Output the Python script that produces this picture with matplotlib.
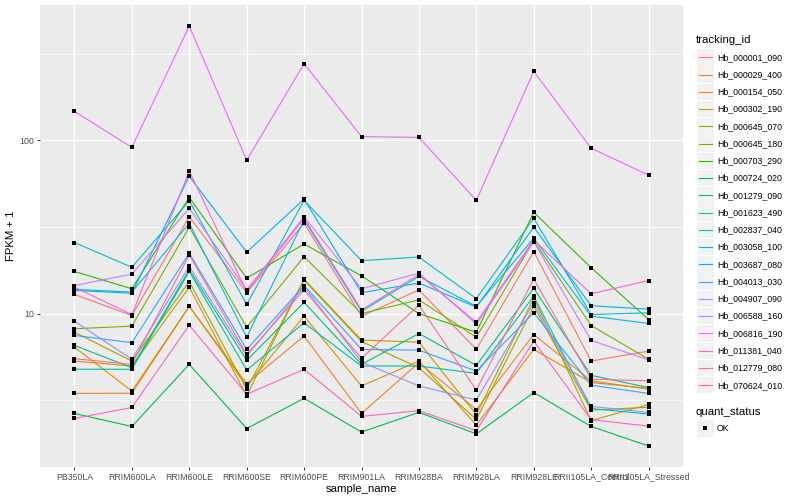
import numpy as np
import matplotlib.pyplot as plt
from matplotlib.patches import Rectangle
from matplotlib.lines import Line2D
from matplotlib.ticker import NullFormatter

plt.rcParams['font.family'] = ['Liberation Sans', 'DejaVu Sans']

samples = ['PB350LA', 'RRIM600LA', 'RRIM600LE', 'RRIM600SE', 'RRIM600PE', 'RRIM901LA',
           'RRIM928BA', 'RRIM928LA', 'RRIM928LE', 'RRII105LA_Control', 'RRII105LA_Stressed']

tracking_ids = ['Hb_000001_090', 'Hb_000029_400', 'Hb_000154_050', 'Hb_000302_190',
                'Hb_000645_070', 'Hb_000645_180', 'Hb_000703_290', 'Hb_000724_020',
                'Hb_001279_090', 'Hb_001623_490', 'Hb_002837_040', 'Hb_003058_100',
                'Hb_003687_080', 'Hb_004013_030', 'Hb_004907_090', 'Hb_006588_160',
                'Hb_006816_190', 'Hb_011381_040', 'Hb_012779_080', 'Hb_070624_010']

# FPKM + 1, one list per gene, in sample order
hb_000001_090 = [12.9, 9.74, 36.2, 13.2, 33.2, 9.65, 13.7, 6.21, 22.8, 5.32, 6.07]
hb_000029_400 = [3.46, 3.47, 11.0, 3.94, 7.42, 2.65, 5.21, 2.79, 7.57, 4.09, 3.66]
hb_000154_050 = [6.40, 3.57, 11.0, 3.82, 9.66, 3.82, 5.32, 2.27, 6.21, 4.00, 3.70]
hb_000302_190 = [5.32, 4.98, 14.2, 3.35, 15.8, 7.03, 6.84, 2.61, 12.3, 2.41, 2.99]
hb_000645_070 = [7.81, 5.32, 15.3, 3.66, 15.6, 6.90, 4.87, 2.45, 11.0, 2.77, 2.88]
hb_000645_180 = [8.17, 8.46, 31.5, 8.34, 21.3, 10.0, 12.0, 7.31, 26.3, 8.53, 5.45]
hb_000703_290 = [17.5, 13.9, 46.9, 16.0, 25.2, 16.5, 10.0, 7.81, 38.4, 18.4, 9.24]
hb_000724_020 = [2.65, 2.23, 5.09, 2.17, 3.24, 2.07, 2.69, 2.02, 3.50, 2.23, 1.72]
hb_001279_090 = [6.55, 4.87, 17.9, 5.37, 11.6, 5.09, 7.67, 5.02, 14.0, 4.40, 3.74]
hb_001623_490 = [4.77, 4.77, 17.5, 4.72, 8.84, 4.98, 4.98, 4.52, 12.6, 2.83, 2.63]
hb_002837_040 = [25.7, 18.5, 44.8, 11.3, 45.0, 20.2, 21.2, 12.2, 35.5, 9.87, 10.1]
hb_003058_100 = [13.8, 13.3, 33.2, 7.31, 34.7, 10.3, 16.4, 11.0, 27.2, 9.66, 8.77]
hb_003687_080 = [13.6, 13.1, 62.1, 22.6, 45.8, 13.2, 15.0, 10.9, 31.5, 11.1, 10.6]
hb_004013_030 = [7.48, 6.79, 22.3, 6.21, 14.5, 6.21, 6.15, 4.66, 10.1, 3.86, 3.46]
hb_004907_090 = [9.03, 5.45, 18.7, 5.69, 14.3, 5.25, 3.82, 3.17, 11.5, 2.91, 2.69]
hb_006588_160 = [14.5, 16.9, 40.5, 13.7, 36.2, 13.9, 17.1, 8.70, 26.0, 7.00, 5.40]
hb_006816_190 = [147, 91, 457, 76.7, 277, 105, 104, 45, 250, 90, 63]
hb_011381_040 = [14.2, 9.87, 66.4, 13.4, 35.5, 10.5, 16.8, 8.91, 26.6, 13.0, 15.5]
hb_012779_080 = [2.48, 2.87, 8.57, 3.42, 4.77, 2.55, 2.75, 2.11, 6.93, 2.44, 2.24]
hb_070624_010 = [5.49, 5.09, 21.8, 5.81, 13.7, 5.51, 11.2, 3.62, 15.8, 4.18, 4.09]

series = [hb_000001_090, hb_000029_400, hb_000154_050, hb_000302_190, hb_000645_070,
          hb_000645_180, hb_000703_290, hb_000724_020, hb_001279_090, hb_001623_490,
          hb_002837_040, hb_003058_100, hb_003687_080, hb_004013_030, hb_004907_090,
          hb_006588_160, hb_006816_190, hb_011381_040, hb_012779_080, hb_070624_010]


# ggplot default hue palette (hcl, l=65, c=100)
def gg_hue(n, l=65, c=100):
    xn, yn, zn = 0.95047, 1.0, 1.08883
    un = 4 * xn / (xn + 15 * yn + 3 * zn)
    vn = 9 * yn / (xn + 15 * yn + 3 * zn)
    cols = []
    for h in np.linspace(15, 375, n + 1)[:-1]:
        hr = np.deg2rad(h)
        u, v = c * np.cos(hr), c * np.sin(hr)
        Y = ((l + 16) / 116) ** 3
        up = u / (13 * l) + un
        vp = v / (13 * l) + vn
        X = 9 * Y * up / (4 * vp)
        Z = Y * (12 - 3 * up - 20 * vp) / (4 * vp)
        r = 3.2404542 * X - 1.5371385 * Y - 0.4985314 * Z
        g = -0.9692660 * X + 1.8760108 * Y + 0.0415560 * Z
        b = 0.0556434 * X - 0.2040259 * Y + 1.0572252 * Z
        rgb = []
        for ch in (r, g, b):
            ch = 12.92 * ch if ch <= 0.0031308 else 1.055 * ch ** (1 / 2.4) - 0.055
            rgb.append(min(max(ch, 0), 1))
        cols.append(tuple(rgb))
    return cols


colors = gg_hue(len(tracking_ids))
x = np.arange(len(samples))

W, H = 800, 500
fig = plt.figure(figsize=(8, 5), dpi=100)
ax = fig.add_axes([40 / W, 1 - 467 / H, (683 - 40) / W, (467 - 5) / H])
ax.set_facecolor('#EBEBEB')

for vals, col in zip(series, colors):
    ax.plot(x, vals, color=col, lw=0.8, zorder=2)
for vals in series:
    ax.plot(x, vals, ls='none', marker='s', ms=3.0, mew=0, color='black', zorder=3)

ax.set_yscale('log')
allv = np.log10(np.concatenate([np.array(s, float) for s in series]))
pad = 0.05 * (allv.max() - allv.min())
ax.set_ylim(10 ** (allv.min() - pad), 10 ** (allv.max() + pad))
ax.set_xlim(-0.6, len(samples) - 0.4)

ax.set_yticks([10, 100])
ax.set_yticklabels(['10', '100'])
ax.set_yticks([10 ** 0.5, 10 ** 1.5, 10 ** 2.5], minor=True)
ax.yaxis.set_minor_formatter(NullFormatter())
ax.set_xticks(x)
ax.set_xticklabels(samples)

ax.set_axisbelow(True)
ax.grid(which='major', color='white', lw=1.0)
ax.grid(which='minor', axis='y', color='white', lw=0.5)
for s in ax.spines.values():
    s.set_visible(False)
ax.tick_params(which='major', length=2.5, width=0.7, color='#333333',
               labelsize=6.3, labelcolor='#4D4D4D', pad=1.5)
ax.tick_params(which='minor', length=0)

ax.set_xlabel('sample_name', fontsize=8.2, labelpad=2)
ax.set_ylabel('FPKM + 1', fontsize=8.2, labelpad=3)


# legend drawn by hand, ggplot style
def fx(px):
    return px / W


def fy(py):
    return 1 - py / H


fig.text(fx(696), fy(40), 'tracking_id', fontsize=8.2, va='center', ha='left')
step = 17.26
for i, (tid, col) in enumerate(zip(tracking_ids, colors)):
    yc = 57.3 + i * step
    fig.add_artist(Rectangle((fx(697), fy(yc + 8.2)), 16.5 / W, 16.4 / H,
                             transform=fig.transFigure, facecolor='#F2F2F2', edgecolor='none'))
    fig.add_artist(Line2D([fx(698.5), fx(712)], [fy(yc), fy(yc)],
                          transform=fig.transFigure, color=col, lw=0.8))
    fig.text(fx(717), fy(yc), tid, fontsize=6.3, va='center', ha='left')

fig.text(fx(696), fy(412), 'quant_status', fontsize=8.2, va='center', ha='left')
fig.add_artist(Rectangle((fx(697), fy(428.3 + 8.2)), 16.5 / W, 16.4 / H,
                         transform=fig.transFigure, facecolor='#F2F2F2', edgecolor='none'))
fig.add_artist(Line2D([fx(705.2)], [fy(428.3)], transform=fig.transFigure,
                      ls='none', marker='s', ms=3.0, mew=0, color='black'))
fig.text(fx(717), fy(428.3), 'OK', fontsize=6.3, va='center', ha='left')

fig.savefig('out.png', dpi=100)
